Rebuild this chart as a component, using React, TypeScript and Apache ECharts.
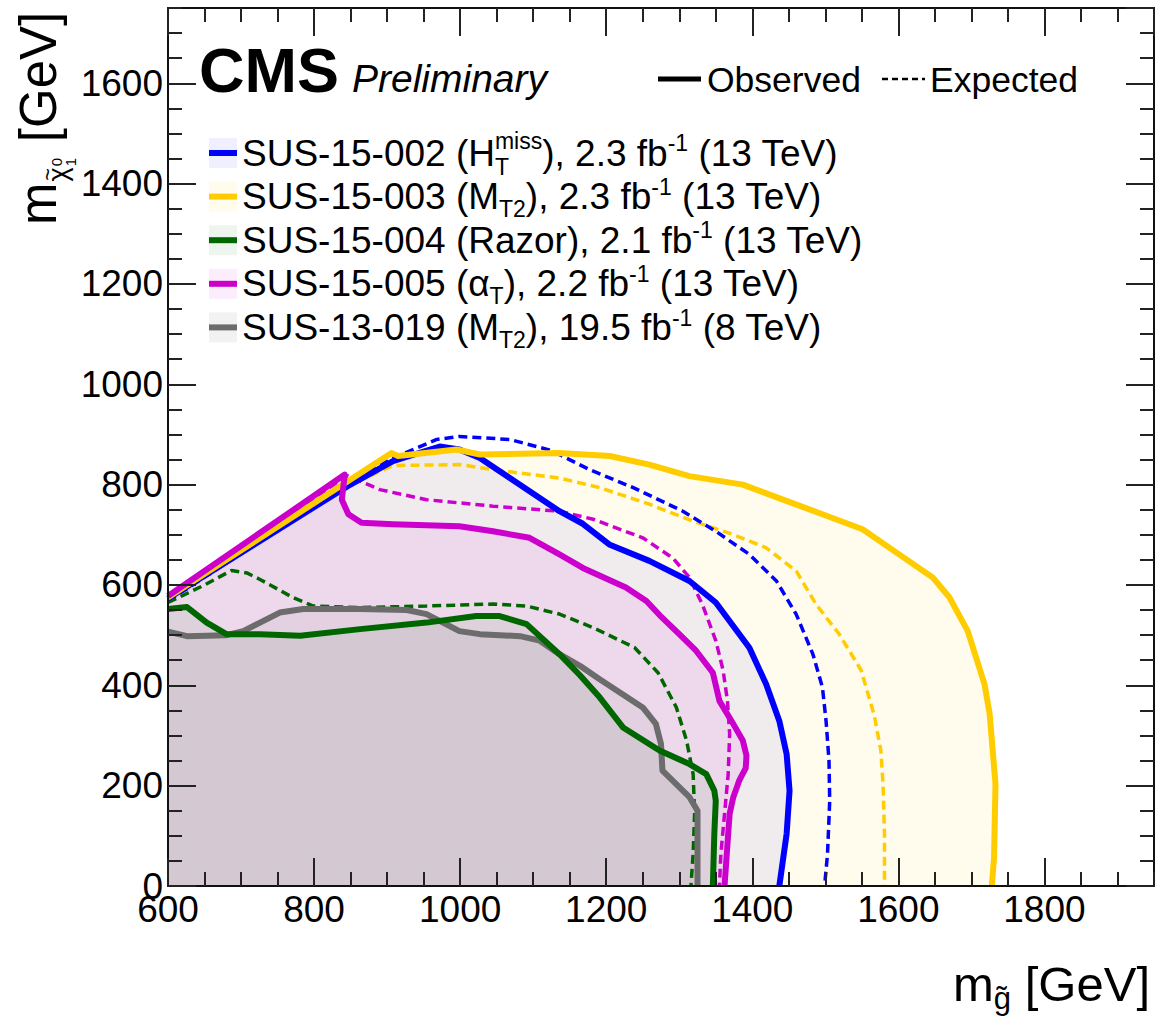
import React, { useEffect, useRef } from "react";
import * as echarts from "echarts";

const FONT = '"Liberation Sans", Arial, Helvetica, sans-serif';

const X_MIN = 600;
const X_MAX = 1950;
const Y_MIN = 0;
const Y_MAX = 1750;
const MAJOR = 200;
const MINOR = 50;

// SUS-15-002 (HT miss)
const obs15002 = [[600,573],[846,797],[908,847],[972,876],[999,870],[1027,853],[1068,813],[1136,747],[1168,722],[1205,680],[1259,648],[1314,608],[1350,565],[1396,475],[1419,402],[1437,329],[1447,263],[1451,190],[1447,104],[1437,0]];
const exp15002 = [[600,568],[849,804],[908,853],[968,890],[999,896],[1068,890],[1125,868],[1177,830],[1237,794],[1305,747],[1350,707],[1396,661],[1433,608],[1460,542],[1483,462],[1496,396],[1501,329],[1505,250],[1506,170],[1503,64],[1499,0]];
// SUS-15-003 (MT2)
const obs15003 = [[600,575],[906,863],[915,857],[995,870],[1027,860],[1136,863],[1205,857],[1259,840],[1314,817],[1387,800],[1442,770],[1496,741],[1551,711],[1601,661],[1647,615],[1670,575],[1695,508],[1718,402],[1725,343],[1733,203],[1731,57],[1728,0]];
const exp15003 = [[600,570],[850,800],[908,838],[999,840],[1045,830],[1136,813],[1191,794],[1259,761],[1319,727],[1373,701],[1419,674],[1460,628],[1488,560],[1519,502],[1549,430],[1567,340],[1576,270],[1579,203],[1581,104],[1581,0]];
// SUS-15-004 (Razor)
const obs15004 = [[600,552],[626,556],[653,525],[680,502],[726,502],[781,499],[863,512],[954,525],[1022,538],[1054,538],[1091,522],[1136,462],[1164,420],[1191,376],[1223,316],[1273,270],[1314,243],[1337,223],[1348,190],[1350,170],[1348,104],[1346,0]];
const exp15004 = [[600,565],[650,600],[687,629],[708,624],[726,611],[771,575],[799,558],[863,555],[954,558],[1045,562],[1091,558],[1136,542],[1182,515],[1239,475],[1271,425],[1296,356],[1310,290],[1319,223],[1321,144],[1319,64],[1316,0]];
// SUS-15-005 (alphaT)
const obs15005 = [[600,578],[842,820],[838,770],[847,741],[865,724],[908,721],[999,717],[1045,707],[1095,694],[1136,661],[1168,634],[1227,595],[1255,568],[1273,540],[1300,502],[1323,469],[1346,425],[1355,369],[1374,323],[1387,290],[1392,260],[1391,235],[1382,210],[1374,177],[1369,144],[1367,104],[1362,0]];
const exp15005 = [[600,572],[845,818],[858,810],[890,790],[954,770],[1045,757],[1136,747],[1182,731],[1250,694],[1291,654],[1314,615],[1332,560],[1350,489],[1360,430],[1366,369],[1369,303],[1367,223],[1362,144],[1357,64],[1355,0]];
// SUS-13-019 (MT2, 8 TeV)
const obs13019 = [[600,507],[626,498],[680,500],[703,508],[726,525],[753,545],[785,552],[863,552],[927,550],[954,542],[999,508],[1027,502],[1082,498],[1109,489],[1136,462],[1164,439],[1191,412],[1250,356],[1268,323],[1275,283],[1277,230],[1291,210],[1314,177],[1325,150],[1325,0]];

type Seg = { t?: string; k?: "n" | "sup" | "sub" | "stack"; sup?: string; sub?: string };

const legendRows: Seg[][] = [
  [{ t: "SUS-15-002 (H" }, { k: "stack", sup: "miss", sub: "T" }, { t: "), 2.3 fb" }, { k: "sup", t: "-1" }, { t: " (13 TeV)" }],
  [{ t: "SUS-15-003 (M" }, { k: "sub", t: "T2" }, { t: "), 2.3 fb" }, { k: "sup", t: "-1" }, { t: " (13 TeV)" }],
  [{ t: "SUS-15-004 (Razor), 2.1 fb" }, { k: "sup", t: "-1" }, { t: " (13 TeV)" }],
  [{ t: "SUS-15-005 (\u03b1" }, { k: "sub", t: "T" }, { t: "), 2.2 fb" }, { k: "sup", t: "-1" }, { t: " (13 TeV)" }],
  [{ t: "SUS-13-019 (M" }, { k: "sub", t: "T2" }, { t: "), 19.5 fb" }, { k: "sup", t: "-1" }, { t: " (8 TeV)" }],
];

const analyses = [
  { name: "SUS-15-003", color: "#ffcc00", fill: "rgba(255,204,0,0.07)", box: "#fffcee", obs: obs15003, exp: exp15003, legend: 1 },
  { name: "SUS-15-002", color: "#0000ff", fill: "rgba(0,0,255,0.06)", box: "#efeffd", obs: obs15002, exp: exp15002, legend: 0 },
  { name: "SUS-15-005", color: "#cc00cc", fill: "rgba(204,0,204,0.08)", box: "#fbedfb", obs: obs15005, exp: exp15005, legend: 3 },
  { name: "SUS-15-004", color: "#006600", fill: "rgba(0,102,0,0.065)", box: "#eef5ee", obs: obs15004, exp: exp15004, legend: 2 },
  { name: "SUS-13-019", color: "#6c6c6c", fill: "rgba(100,100,100,0.07)", box: "#f2f2f2", obs: obs13019, exp: null as number[][] | null, legend: 4 },
];

let _ctx: CanvasRenderingContext2D | null = null;
function tw(t: string, font: string) {
  if (!_ctx) _ctx = document.createElement("canvas").getContext("2d");
  _ctx!.font = font;
  return _ctx!.measureText(t).width;
}
function fnt(size: number, weight = "normal", style = "normal") {
  return `${style} ${weight} ${size}px ${FONT}`;
}
function textEl(t: string, x: number, baseline: number, size: number, weight = "normal", style = "normal") {
  return {
    type: "text",
    x,
    y: baseline - 0.3465 * size,
    silent: true,
    style: { text: t, font: fnt(size, weight, style), fill: "#000", align: "left", verticalAlign: "middle" },
  };
}
function run(segs: Seg[], x0: number, base: number, S: number, s: number, supRaise: number, subDrop: number) {
  const els: any[] = [];
  let x = x0;
  for (const g of segs) {
    if (!g.k || g.k === "n") {
      els.push(textEl(g.t!, x, base, S));
      x += tw(g.t!, fnt(S));
    } else if (g.k === "sup") {
      els.push(textEl(g.t!, x, base - supRaise * S, s));
      x += tw(g.t!, fnt(s));
    } else if (g.k === "sub") {
      els.push(textEl(g.t!, x, base + subDrop * S, s));
      x += tw(g.t!, fnt(s));
    } else {
      els.push(textEl(g.sup!, x, base - 0.46 * S, s));
      els.push(textEl(g.sub!, x, base + 0.23 * S, s));
      x += Math.max(tw(g.sup!, fnt(s)), tw(g.sub!, fnt(s)));
    }
  }
  return { els, width: x - x0 };
}

function buildGraphics() {
  const els: any[] = [];
  // CMS Preliminary
  els.push(textEl("CMS", 199, 92, 63, "bold"));
  els.push(textEl("Preliminary", 352, 92, 39, "normal", "italic"));
  // Observed / Expected
  els.push({ type: "line", silent: true, shape: { x1: 658, y1: 79, x2: 701, y2: 79 }, style: { stroke: "#000", lineWidth: 5 } });
  els.push(textEl("Observed", 707, 92, 35.5));
  els.push({ type: "line", silent: true, shape: { x1: 882, y1: 79, x2: 925, y2: 79 }, style: { stroke: "#000", lineWidth: 2.5, lineDash: [6, 4] } });
  els.push(textEl("Expected", 930, 92, 35.5));
  // legend rows
  const byLegend: any[] = [];
  analyses.forEach((a) => (byLegend[a.legend] = a));
  for (let i = 0; i < 5; i++) {
    const a = byLegend[i];
    const c = 153 + i * 43.6;
    els.push({ type: "rect", silent: true, shape: { x: 209, y: c - 15, width: 28, height: 30 }, style: { fill: a.box } });
    els.push({ type: "line", silent: true, shape: { x1: 209, y1: c, x2: 237, y2: c }, style: { stroke: a.color, lineWidth: 6 } });
    const r = run(legendRows[i], 242, c + 13, 37, 23, 0.4, 0.2);
    els.push(...r.els);
  }
  // x axis title
  const xt: Seg[] = [{ t: "m" }, { k: "sub", t: "g\u0303" }, { t: " [GeV]" }];
  const xr = run(xt, 0, 1001, 49, 31, 0.4, 0.17);
  const shift = 1150 - xr.width;
  xr.els.forEach((e: any) => (e.x += shift));
  els.push(...xr.els);
  // y axis title (rotated)
  const S = 51;
  const parts: any[] = [];
  parts.push(textEl("m", 0, 0, S));
  const mw = tw("m", fnt(S));
  parts.push(textEl("\u03c7", mw + 1, 11, 27));
  const cw = tw("\u03c7", fnt(27));
  parts.push(textEl("~", mw + 1 + cw / 2 - tw("~", fnt(22)) / 2, -1, 22));
  parts.push(textEl("0", mw + 2 + cw, 6, 15));
  parts.push(textEl("1", mw + 2 + cw, 20, 15));
  parts.push(textEl(" [GeV]", mw + cw + 12, 0, S));
  els.push({ type: "group", x: 56, y: 225, rotation: Math.PI / 2, children: parts });
  return els;
}

function App() {
  const ref = useRef<HTMLDivElement>(null);
  useEffect(() => {
    const chart = echarts.init(ref.current!, undefined, { renderer: "svg" });
    const mk = (dim: "x" | "y", pos: string, major: boolean, labels: boolean) => ({
      type: "value",
      splitLine: { show: false },
      z: 6,
      min: dim === "x" ? X_MIN : Y_MIN,
      max: dim === "x" ? X_MAX : Y_MAX,
      interval: major ? MAJOR : MINOR,
      position: pos,
      axisLine: { show: major, onZero: false, lineStyle: { color: "#111", width: 2 } },
      axisTick: { show: true, inside: true, length: major ? 28 : 14, lineStyle: { color: "#222", width: 2 } },
      axisLabel: {
        show: labels,
        color: "#000",
        fontFamily: FONT,
        fontSize: 37,
        margin: 5,
        showMaxLabel: false,
        formatter: (v: number) => String(v),
      },
    });
    const series: any[] = [];
    analyses.forEach((a) => {
      const poly = [...a.obs, [X_MIN, 0]];
      series.push({
        type: "custom",
        name: a.name + " fill",
        xAxisIndex: 0,
        yAxisIndex: 0,
        silent: true,
        z: 1,
        data: poly,
        encode: { x: 0, y: 1 },
        renderItem: (params: any, api: any) => {
          if (params.dataIndex !== 0) return null;
          const pts = poly.map((p) => api.coord(p));
          return { type: "polygon", shape: { points: pts }, style: { fill: a.fill, stroke: "none" } };
        },
      });
    });
    analyses.forEach((a) => {
      if (!a.exp) return;
      series.push({
        type: "line",
        name: a.name + " expected",
        data: a.exp,
        symbol: "none",
        showSymbol: false,
        silent: true,
        z: 3,
        clip: true,
        lineStyle: { color: a.color, width: 3.5, type: [9, 5] },
      });
    });
    const solidOrder = ["SUS-13-019", "SUS-15-004", "SUS-15-002", "SUS-15-003", "SUS-15-005"];
    solidOrder.forEach((n) => {
      const a = analyses.find((q) => q.name === n)!;
      series.push({
        type: "line",
        name: a.name + " observed",
        data: a.obs,
        symbol: "none",
        showSymbol: false,
        silent: true,
        z: 4,
        clip: true,
        lineStyle: { color: a.color, width: 6, join: "round" },
      });
    });
    chart.setOption({
      animation: false,
      backgroundColor: "#fff",
      grid: { left: 168, right: 4, top: 8, bottom: 136, containLabel: false },
      xAxis: [mk("x", "bottom", true, true), mk("x", "bottom", false, false), mk("x", "top", true, false), mk("x", "top", false, false)],
      yAxis: [mk("y", "left", true, true), mk("y", "left", false, false), mk("y", "right", true, false), mk("y", "right", false, false)],
      series,
      graphic: { elements: buildGraphics() },
    });
    return () => chart.dispose();
  }, []);
  return <div ref={ref} style={{ position: "fixed", left: 0, top: 0, width: 1158, height: 1022, background: "#fff" }} />;
}

export default App;
